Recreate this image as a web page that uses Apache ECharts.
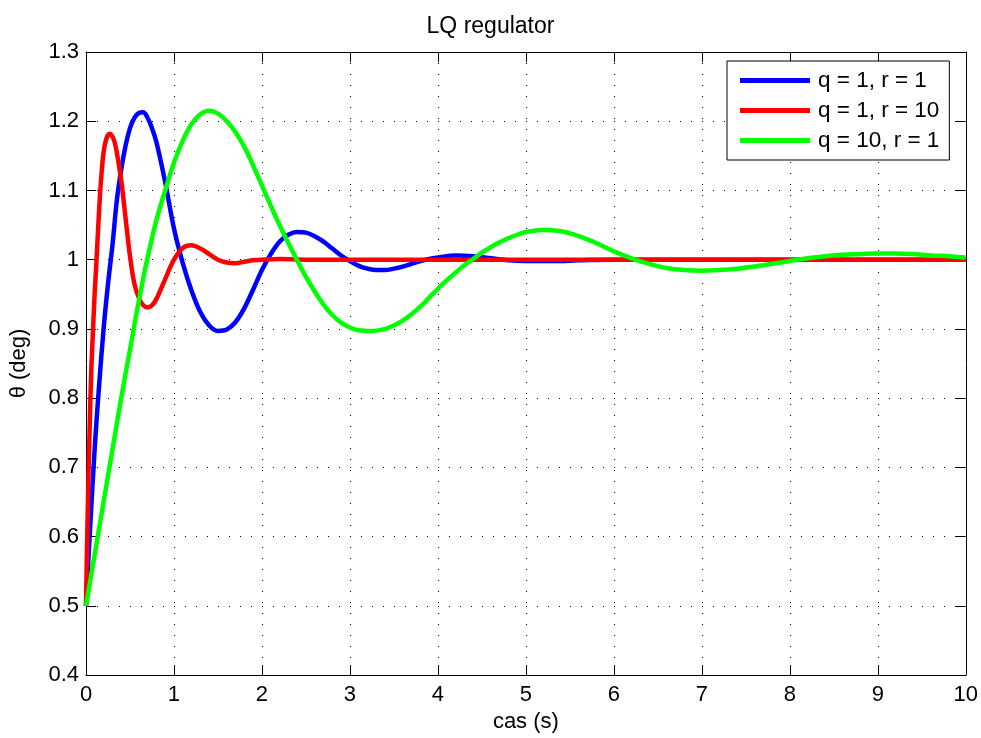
<!DOCTYPE html>
<html>
<head>
<meta charset="utf-8">
<script src="https://cdn.jsdelivr.net/npm/echarts@6/dist/echarts.min.js"></script>
<style>
html,body{margin:0;padding:0;background:#fff;}
#chart{width:981px;height:738px;}
</style>
</head>
<body>
<div id="chart"></div>
<script>
const titleText = 'LQ regulator';
const xName = 'cas (s)';
const yName = 'θ (deg)';
const seriesNames = ['q = 1, r = 1', 'q = 1, r = 10', 'q = 10, r = 1'];

const blueT = [0, 0.05, 0.1, 0.15, 0.2, 0.25, 0.3, 0.35, 0.4, 0.45, 0.5, 0.55, 0.6, 0.65, 0.7, 0.75, 0.8, 0.9, 1.0, 1.1, 1.2, 1.3, 1.4, 1.5, 1.6, 1.7, 1.8, 1.9, 2.0, 2.1, 2.2, 2.3, 2.4, 2.5, 2.6, 2.7, 2.8, 2.9, 3.0, 3.1, 3.2, 3.3, 3.4, 3.5, 3.6, 3.7, 3.8, 3.9, 4.0, 4.2, 4.4, 4.6, 4.8, 5.0, 5.3, 5.6, 6.0, 7, 8, 9, 10];
const blueY = [0.5, 0.62, 0.73, 0.82, 0.9, 0.965, 1.02, 1.085, 1.13, 1.165, 1.19, 1.205, 1.212, 1.213, 1.205, 1.19, 1.17, 1.112, 1.045, 0.995, 0.955, 0.924, 0.905, 0.897, 0.899, 0.91, 0.93, 0.957, 0.985, 1.008, 1.026, 1.036, 1.04, 1.039, 1.034, 1.026, 1.016, 1.006, 0.998, 0.991, 0.987, 0.985, 0.985, 0.987, 0.99, 0.994, 0.998, 1.001, 1.003, 1.006, 1.005, 1.002, 0.999, 0.998, 0.998, 0.999, 1.0, 1.0, 1.0, 1.0, 1.0];

const redT = [0, 0.02, 0.04, 0.06, 0.08, 0.1, 0.12, 0.14, 0.16, 0.18, 0.2, 0.225, 0.25, 0.275, 0.3, 0.325, 0.35, 0.4, 0.45, 0.5, 0.55, 0.6, 0.65, 0.7, 0.75, 0.8, 0.9, 1.0, 1.1, 1.2, 1.3, 1.4, 1.5, 1.6, 1.7, 1.8, 1.9, 2.0, 2.2, 2.5, 3, 4, 5, 6, 7, 8, 9, 10];
const redY = [0.5, 0.64, 0.75, 0.84, 0.9, 0.955, 1.0, 1.05, 1.095, 1.13, 1.155, 1.172, 1.18, 1.182, 1.178, 1.17, 1.155, 1.115, 1.06, 1.005, 0.965, 0.945, 0.934, 0.931, 0.934, 0.943, 0.972, 1.0, 1.017, 1.021, 1.016, 1.008, 1.0, 0.996, 0.995, 0.997, 0.999, 1.0, 1.001, 1.0, 1.0, 1.0, 1.0, 1.0, 1.0, 1.0, 1.0, 1.0];

const greenT = [0, 0.1, 0.2, 0.3, 0.4, 0.5, 0.6, 0.7, 0.8, 0.9, 1.0, 1.1, 1.2, 1.3, 1.4, 1.5, 1.6, 1.7, 1.8, 1.9, 2.0, 2.1, 2.2, 2.3, 2.4, 2.5, 2.6, 2.7, 2.8, 2.9, 3.0, 3.1, 3.25, 3.4, 3.5, 3.6, 3.7, 3.8, 3.9, 4.0, 4.1, 4.2, 4.3, 4.4, 4.5, 4.6, 4.7, 4.8, 4.9, 5.0, 5.2, 5.4, 5.6, 5.8, 6.0, 6.2, 6.4, 6.6, 6.8, 7.0, 7.2, 7.4, 7.6, 7.8, 8.0, 8.2, 8.4, 8.6, 8.8, 9.0, 9.2, 9.4, 9.6, 9.8, 10];
const greenY = [0.5, 0.575, 0.65, 0.725, 0.8, 0.87, 0.94, 1.003, 1.057, 1.1, 1.14, 1.172, 1.196, 1.21, 1.215, 1.211, 1.2, 1.184, 1.163, 1.136, 1.107, 1.078, 1.05, 1.024, 0.999, 0.975, 0.954, 0.935, 0.92, 0.909, 0.902, 0.898, 0.897, 0.9, 0.905, 0.912, 0.921, 0.932, 0.945, 0.958, 0.97, 0.981, 0.992, 1.001, 1.01, 1.018, 1.025, 1.031, 1.036, 1.04, 1.043, 1.041, 1.034, 1.024, 1.012, 1.002, 0.994, 0.988, 0.985, 0.984, 0.985, 0.987, 0.99, 0.994, 0.998, 1.002, 1.005, 1.007, 1.008, 1.009, 1.009, 1.008, 1.006, 1.005, 1.003];

const xTicks = {min: 0, max: 10, interval: 1};
const yTicks = {min: 0.4, max: 1.3, interval: 0.1};

const FONT = "'Liberation Sans', Arial, Helvetica, sans-serif";
const zip = (t, y) => t.map((v, i) => [v, y[i]]);

const chart = echarts.init(document.getElementById('chart'), null, {renderer: 'canvas'});

const dotted = {show: true, lineStyle: {color: '#000', width: 1, type: [1, 10]}};
const fmtY = v => String(Math.round(v * 10) / 10);

const baseAxis = {
  axisLine: {show: true, onZero: false, lineStyle: {color: '#000', width: 1}},
  axisTick: {show: true, inside: true, length: 10, lineStyle: {color: '#000'}},
};

chart.setOption({
  animation: false,
  backgroundColor: '#fff',
  title: {
    text: titleText, left: 'center', top: 10,
    textStyle: {fontFamily: FONT, fontSize: 23, fontWeight: 'normal', color: '#000'}
  },
  grid: {left: 86, right: 15, top: 52, bottom: 63, containLabel: false},
  legend: {
    orient: 'vertical', left: 727, top: 61,
    padding: [8, 10, 8, 13],
    backgroundColor: '#fff', borderColor: '#000', borderWidth: 1,
    itemWidth: 70, itemHeight: 5, itemGap: 7, icon: 'rect',
    textStyle: {fontFamily: FONT, fontSize: 22.5, color: '#000', padding: [0, 0, 0, 3]},
    data: seriesNames
  },
  xAxis: [
    Object.assign({}, baseAxis, {
      type: 'value', min: xTicks.min, max: xTicks.max, interval: xTicks.interval,
      position: 'bottom',
      name: xName, nameLocation: 'middle', nameGap: 33,
      nameTextStyle: {fontFamily: FONT, fontSize: 22, color: '#000'},
      axisLabel: {fontFamily: FONT, fontSize: 22, color: '#000', margin: 9},
      splitLine: dotted
    }),
    Object.assign({}, baseAxis, {
      type: 'value', min: xTicks.min, max: xTicks.max, interval: xTicks.interval,
      position: 'top', axisLabel: {show: false}, splitLine: {show: false}
    })
  ],
  yAxis: [
    Object.assign({}, baseAxis, {
      type: 'value', min: yTicks.min, max: yTicks.max, interval: yTicks.interval,
      position: 'left',
      name: yName, nameLocation: 'middle', nameGap: 56,
      nameTextStyle: {fontFamily: FONT, fontSize: 22, color: '#000'},
      axisLabel: {fontFamily: FONT, fontSize: 22, color: '#000', margin: 7, formatter: fmtY},
      splitLine: dotted
    }),
    Object.assign({}, baseAxis, {
      type: 'value', min: yTicks.min, max: yTicks.max, interval: yTicks.interval,
      position: 'right', axisLabel: {show: false}, splitLine: {show: false}
    })
  ],
  series: [
    {name: seriesNames[0], type: 'line', data: zip(blueT, blueY), showSymbol: false, smooth: 0.35, color: '#0000ff', lineStyle: {width: 4.5, color: '#0000ff'}, z: 2},
    {name: seriesNames[1], type: 'line', data: zip(redT, redY), showSymbol: false, smooth: 0.35, color: '#ff0000', lineStyle: {width: 4.5, color: '#ff0000'}, z: 3},
    {name: seriesNames[2], type: 'line', data: zip(greenT, greenY), showSymbol: false, smooth: 0.35, color: '#00ff00', lineStyle: {width: 4.5, color: '#00ff00'}, z: 4}
  ]
});
</script>
</body>
</html>
